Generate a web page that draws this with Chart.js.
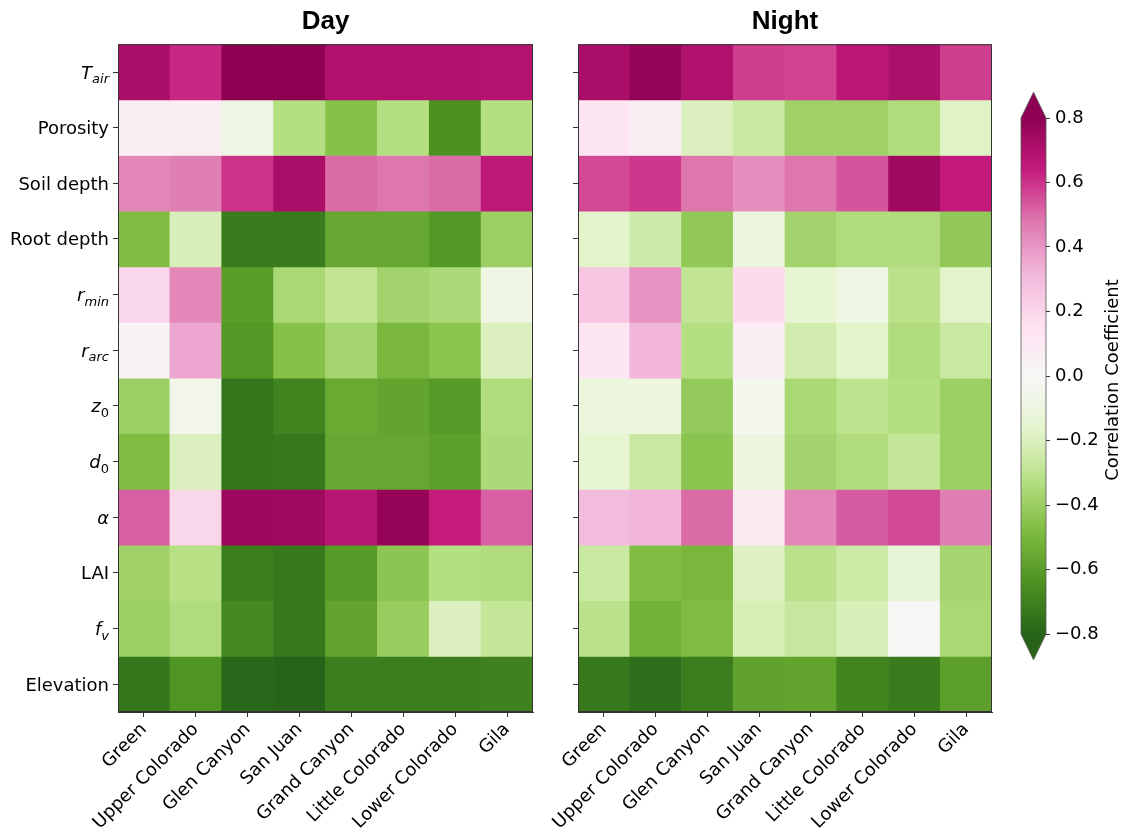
<!DOCTYPE html>
<html>
<head>
<meta charset="utf-8">
<script src="https://cdn.jsdelivr.net/npm/chart.js@4.4.0/dist/chart.umd.min.js"></script>
<style>
  body { margin: 0; background: #fff; }
  #wrap { position: relative; width: 1125px; height: 837px; background: #fff; }
  canvas { position: absolute; top: 0; }
</style>
</head>
<body>
<div id="wrap">
  <canvas id="day" width="545" height="837" style="left:0px"></canvas>
  <canvas id="night" width="460" height="837" style="left:545px"></canvas>
  <canvas id="cbar" width="120" height="837" style="left:1005px"></canvas>
</div>
<script>
// basins along x, parameters down y (top to bottom)
var basins = ["Green", "Upper Colorado", "Glen Canyon", "San Juan", "Grand Canyon", "Little Colorado", "Lower Colorado", "Gila"];
var params = ["T_air", "Porosity", "Soil depth", "Root depth", "r_min", "r_arc", "z_0", "d_0", "α", "LAI", "f_v", "Elevation"];

// correlation coefficients, one row per parameter
var dayValues = [
  [0.72, 0.62, 0.80, 0.80, 0.70, 0.70, 0.70, 0.69],
  [0.07, 0.07, -0.08, -0.33, -0.46, -0.33, -0.64, -0.33],
  [0.44, 0.46, 0.60, 0.72, 0.50, 0.48, 0.50, 0.66],
  [-0.48, -0.21, -0.72, -0.72, -0.56, -0.56, -0.62, -0.40],
  [0.20, 0.44, -0.60, -0.36, -0.29, -0.38, -0.35, -0.08],
  [0.02, 0.36, -0.62, -0.46, -0.37, -0.50, -0.45, -0.20],
  [-0.40, -0.06, -0.74, -0.69, -0.55, -0.57, -0.61, -0.34],
  [-0.48, -0.20, -0.74, -0.73, -0.56, -0.56, -0.59, -0.35],
  [0.52, 0.20, 0.76, 0.75, 0.68, 0.78, 0.64, 0.52],
  [-0.39, -0.32, -0.71, -0.73, -0.61, -0.44, -0.33, -0.34],
  [-0.40, -0.34, -0.67, -0.73, -0.57, -0.41, -0.20, -0.28],
  [-0.74, -0.63, -0.79, -0.80, -0.71, -0.71, -0.71, -0.70]
];
var nightValues = [
  [0.72, 0.78, 0.70, 0.58, 0.57, 0.67, 0.71, 0.58],
  [0.12, 0.08, -0.20, -0.26, -0.39, -0.39, -0.34, -0.18],
  [0.56, 0.59, 0.48, 0.42, 0.48, 0.54, 0.75, 0.65],
  [-0.17, -0.24, -0.43, -0.10, -0.38, -0.34, -0.34, -0.43],
  [0.26, 0.41, -0.29, 0.18, -0.15, -0.08, -0.31, -0.17],
  [0.12, 0.32, -0.33, 0.07, -0.23, -0.17, -0.34, -0.26],
  [-0.10, -0.10, -0.42, -0.04, -0.36, -0.30, -0.33, -0.40],
  [-0.15, -0.26, -0.45, -0.10, -0.38, -0.34, -0.28, -0.40],
  [0.30, 0.32, 0.50, 0.10, 0.44, 0.53, 0.56, 0.46],
  [-0.26, -0.48, -0.50, -0.19, -0.31, -0.25, -0.13, -0.37],
  [-0.31, -0.52, -0.48, -0.22, -0.27, -0.21, -0.01, -0.36],
  [-0.73, -0.77, -0.71, -0.58, -0.57, -0.69, -0.72, -0.59]
];

var vmin = -0.8, vmax = 0.8;
var cbTicks = [-0.8, -0.6, -0.4, -0.2, 0.0, 0.2, 0.4, 0.6, 0.8];

// PiYG reversed: green for low, pink for high
var PIYG = ["#276419", "#4d9221", "#7fbc41", "#b8e186", "#e6f5d0", "#f7f7f7", "#fde0ef", "#f1b6da", "#de77ae", "#c51b7d", "#8e0152"];

function hexRgb(h) {
  return [parseInt(h.slice(1, 3), 16), parseInt(h.slice(3, 5), 16), parseInt(h.slice(5, 7), 16)];
}
function colorOf(v) {
  var t = (v - vmin) / (vmax - vmin);
  t = Math.max(0, Math.min(1, t));
  var p = t * 10, i = Math.min(9, Math.floor(p)), f = p - i;
  var a = hexRgb(PIYG[i]), b = hexRgb(PIYG[i + 1]);
  var c = a.map(function (x, k) { return Math.round(x + (b[k] - x) * f); });
  return "rgb(" + c.join(",") + ")";
}

var FONT = "'DejaVu Sans', sans-serif";
var FS = 18;
var AXIS = "#333";

// y labels with italic symbols and subscripts
function drawParamLabel(ctx, label, xRight, y) {
  var parts;
  if (label.indexOf("_") >= 0) {
    var s = label.split("_");
    parts = [{ t: s[0], it: true, sz: FS, dy: 0 }, { t: s[1], it: !/^\d+$/.test(s[1]), sz: 13, dy: 4.5 }];
  } else if (label === "α") {
    parts = [{ t: label, it: true, sz: FS, dy: 0 }];
  } else {
    parts = [{ t: label, it: false, sz: FS, dy: 0 }];
  }
  var total = 0;
  parts.forEach(function (p) {
    ctx.font = (p.it ? "italic " : "") + p.sz + "px " + FONT;
    p.w = ctx.measureText(p.t).width;
    total += p.w;
  });
  var x = xRight - total;
  ctx.fillStyle = "#000";
  ctx.textAlign = "left";
  ctx.textBaseline = "alphabetic";
  parts.forEach(function (p) {
    ctx.font = (p.it ? "italic " : "") + p.sz + "px " + FONT;
    ctx.fillText(p.t, x, y + 6.5 + p.dy);
    x += p.w;
  });
}

var framePlugin = {
  id: "frame",
  afterDatasetsDraw: function (chart) {
    var a = chart.chartArea, ctx = chart.ctx;
    ctx.save();
    ctx.strokeStyle = AXIS;
    ctx.lineWidth = 1;
    ctx.strokeRect(a.left + 0.5, a.top + 0.5, a.right - a.left - 1, a.bottom - a.top - 1);
    ctx.restore();
  }
};

var yLabelPlugin = {
  id: "ylabels",
  afterDraw: function (chart) {
    var ys = chart.scales.y, ctx = chart.ctx;
    ctx.save();
    params.forEach(function (p, i) {
      drawParamLabel(ctx, p, chart.chartArea.left - 9, ys.getPixelForValue(i + 0.5));
    });
    ctx.restore();
  }
};

function heatmap(id, title, values, yWidth, padRight, plugins) {
  var datasets = params.map(function (p, i) {
    return {
      label: p,
      data: basins.map(function () { return [i, i + 1]; }),
      backgroundColor: values[i].map(colorOf),
      borderWidth: 0,
      grouped: false,
      barPercentage: 1,
      categoryPercentage: 1
    };
  });
  return new Chart(document.getElementById(id), {
    type: "bar",
    data: { labels: basins, datasets: datasets },
    plugins: plugins,
    options: {
      responsive: false,
      animation: false,
      devicePixelRatio: 1,
      layout: { padding: { left: 0, right: padRight, top: 0, bottom: 0 } },
      plugins: {
        legend: { display: false },
        tooltip: { enabled: false },
        title: {
          display: true,
          text: title,
          fullSize: false,
          color: "#000",
          font: { family: "'Liberation Sans', Arial, sans-serif", size: 26, weight: "bold" },
          padding: { top: 6, bottom: 7 }
        }
      },
      scales: {
        x: {
          offset: true,
          grid: { display: true, offset: false, drawOnChartArea: false, drawTicks: true, tickLength: 5, color: AXIS },
          border: { display: true, color: AXIS },
          ticks: {
            color: "#000",
            autoSkip: false,
            maxRotation: 45,
            minRotation: 45,
            padding: 2,
            font: { family: FONT, size: FS }
          },
          afterFit: function (s) { s.height = 125; }
        },
        y: {
          min: 0,
          max: params.length,
          reverse: true,
          grid: { display: true, drawOnChartArea: false, drawTicks: true, tickLength: 5, color: AXIS },
          border: { display: true, color: AXIS },
          ticks: { display: false },
          afterBuildTicks: function (s) {
            s.ticks = params.map(function (p, i) { return { value: i + 0.5 }; });
          },
          afterFit: function (s) { s.width = yWidth; }
        }
      }
    }
  });
}

heatmap("day", "Day", dayValues, 118, 12, [framePlugin, yLabelPlugin]);
heatmap("night", "Night", nightValues, 33, 13, [framePlugin]);

// colorbar with extend triangles
var cbarPlugin = {
  id: "cbarExtras",
  afterDatasetsDraw: function (chart) {
    var ctx = chart.ctx, a = chart.chartArea, ys = chart.scales.y;
    var top = ys.getPixelForValue(vmax), bot = ys.getPixelForValue(vmin);
    var ext = (bot - top) * 0.05, mid = (a.left + a.right) / 2;
    ctx.save();
    ctx.fillStyle = PIYG[10];
    ctx.beginPath();
    ctx.moveTo(a.left, top); ctx.lineTo(mid, top - ext); ctx.lineTo(a.right, top); ctx.closePath();
    ctx.fill();
    ctx.fillStyle = PIYG[0];
    ctx.beginPath();
    ctx.moveTo(a.left, bot); ctx.lineTo(mid, bot + ext); ctx.lineTo(a.right, bot); ctx.closePath();
    ctx.fill();
    ctx.strokeStyle = "#555";
    ctx.lineWidth = 0.8;
    ctx.beginPath();
    ctx.moveTo(a.left, top); ctx.lineTo(mid, top - ext); ctx.lineTo(a.right, top);
    ctx.lineTo(a.right, bot); ctx.lineTo(mid, bot + ext); ctx.lineTo(a.left, bot); ctx.closePath();
    ctx.stroke();
    // axis label, reading bottom to top
    ctx.translate(108, (top + bot) / 2 + 4);
    ctx.rotate(-Math.PI / 2);
    ctx.fillStyle = "#000";
    ctx.font = FS + "px " + FONT;
    ctx.textAlign = "center";
    ctx.textBaseline = "middle";
    ctx.fillText("Correlation Coefficient", 0, 0);
    ctx.restore();
  }
};

new Chart(document.getElementById("cbar"), {
  type: "bar",
  data: {
    labels: ["cb"],
    datasets: [{
      data: [[vmin, vmax]],
      borderWidth: 0,
      barPercentage: 1,
      categoryPercentage: 1,
      backgroundColor: function (c) {
        var ys = c.chart.scales.y;
        if (!ys || ys.top === undefined) return PIYG[5];
        var g = c.chart.ctx.createLinearGradient(0, ys.getPixelForValue(vmin), 0, ys.getPixelForValue(vmax));
        PIYG.forEach(function (col, i) { g.addColorStop(i / 10, col); });
        return g;
      }
    }]
  },
  plugins: [cbarPlugin],
  options: {
    responsive: false,
    animation: false,
    devicePixelRatio: 1,
    layout: { padding: { left: 16, right: 0, top: 118, bottom: 203 } },
    plugins: { legend: { display: false }, tooltip: { enabled: false } },
    scales: {
      x: { display: false },
      y: {
        position: "right",
        min: vmin,
        max: vmax,
        grid: { display: true, drawOnChartArea: false, drawTicks: true, tickLength: 4, color: AXIS },
        border: { display: false },
        afterBuildTicks: function (s) {
          s.ticks = cbTicks.map(function (v) { return { value: v }; });
        },
        ticks: {
          color: "#000",
          padding: 5,
          font: { family: FONT, size: FS },
          callback: function (v) { return (v < 0 ? "\u2212" : "") + Math.abs(v).toFixed(1); }
        },
        afterFit: function (s) { s.width = 79; }
      }
    }
  }
});
</script>
</body>
</html>
